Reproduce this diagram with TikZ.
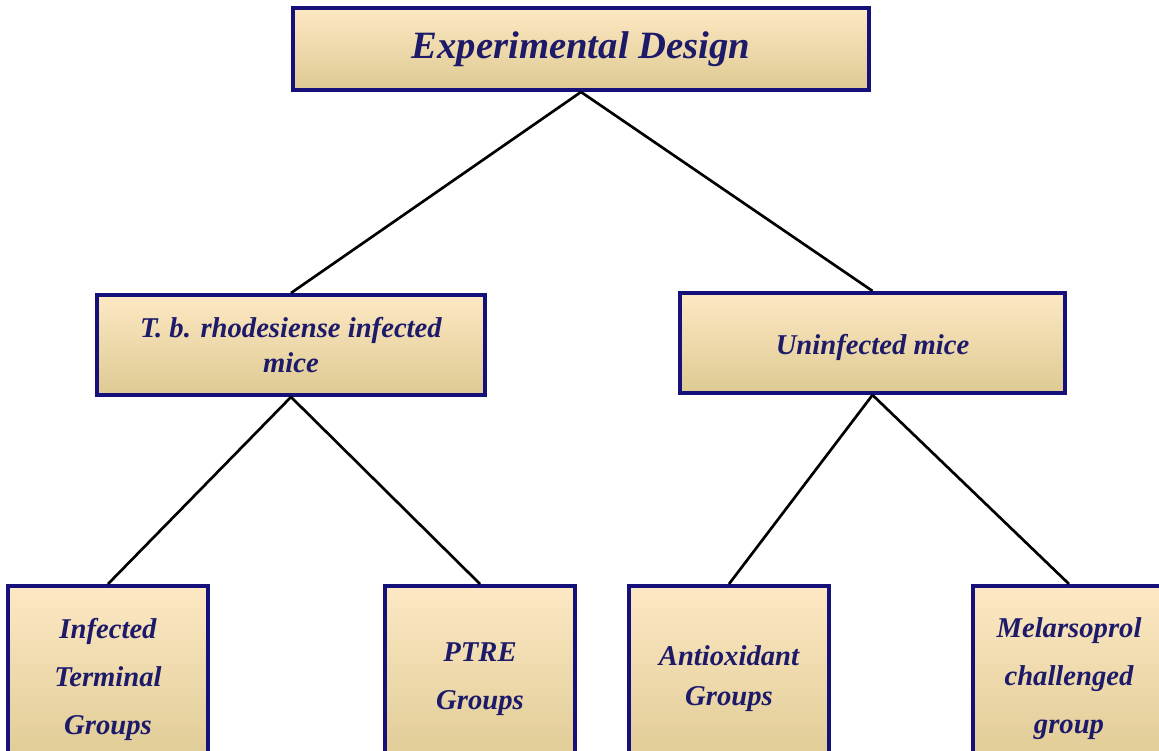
\documentclass[tikz,border=0pt]{standalone}
\usepackage{fontspec}
\setmainfont{Liberation Serif}
\usepackage{tikz}
\usetikzlibrary{positioning}
\definecolor{mynavy}{RGB}{22,16,122}
\definecolor{myink}{RGB}{28,26,105}
\definecolor{mypeach}{RGB}{253,232,196}
\definecolor{mymid}{RGB}{244,227,190}
\definecolor{mytan}{RGB}{222,202,146}

\begin{document}
\begin{tikzpicture}[x=0.75pt, y=0.75pt,
  box/.style={draw=mynavy, line width=3pt, top color=mypeach, middle color=mymid,
    bottom color=mytan, text=myink, align=center, inner sep=0pt,
    font=\bfseries\itshape\fontsize{21.5}{36}\selectfont},
  link/.style={line width=2pt, black}]
  \clip (0,0) rectangle (1159,750);
  \fill[white] (0,0) rectangle (1159,750);

  % top box
  \node[box, minimum width=432pt, minimum height=61.5pt,
    font=\bfseries\itshape\fontsize{29}{34}\selectfont] (design) at (581,701) {Experimental Design};

  % second row
  \node[box, minimum width=291pt, minimum height=75pt,
    font=\bfseries\itshape\fontsize{21.5}{26}\selectfont] (infected) at (291,405) {T. b. rhodesiense infected\\mice};
  \node[box, minimum width=288.75pt, minimum height=75pt] (uninfected) at (872.5,407) {\raisebox{-9pt}[0pt][0pt]{Uninfected mice}};

  % bottom row
  \node[box, minimum width=150pt, minimum height=139.5pt] (terminal) at (108,71) {Infected\\Terminal\\Groups};
  \node[box, minimum width=142.5pt, minimum height=139.5pt] (ptre) at (480,71) {PTRE\\Groups};
  \node[box, minimum width=150pt, minimum height=139.5pt,
    font=\bfseries\itshape\fontsize{21.5}{30}\selectfont] (antiox) at (729,71) {Antioxidant\\Groups};
  \node[box, minimum width=144pt, minimum height=139.5pt] (melar) at (1069,71) {Melarsoprol\\challenged\\group};

  % links
  \draw[link] (design.south) -- (infected.north);
  \draw[link] (design.south) -- (uninfected.north);
  \draw[link] (infected.south) -- (terminal.north);
  \draw[link] (infected.south) -- (ptre.north);
  \draw[link] (uninfected.south) -- (antiox.north);
  \draw[link] (uninfected.south) -- (melar.north);
\end{tikzpicture}
\end{document}
